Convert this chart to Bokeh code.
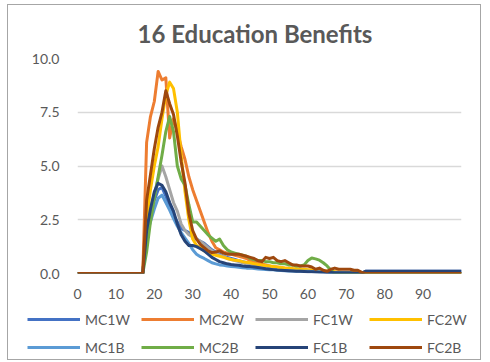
from bokeh.plotting import figure
from bokeh.models import Legend, LegendItem, FixedTicker, Range1d
from bokeh.embed import file_html
from bokeh.resources import INLINE

# ages 0..100
ages = list(range(0, 101))

# benefit values for ages 18..74; ages 0..17 are zero, ages 75..100 hold the tail value
mc1w_mid = [2.0, 2.8, 3.4, 3.9, 4.0, 3.6, 3.1, 2.7, 2.4, 2.1,
            2.0, 1.9, 1.8, 1.6, 1.5, 1.4, 1.25, 1.1, 1.0, 0.9,
            0.8, 0.75, 0.7, 0.65, 0.6, 0.55, 0.5, 0.45, 0.42, 0.4,
            0.38, 0.35, 0.32, 0.3, 0.28, 0.25, 0.22, 0.2, 0.2, 0.18,
            0.17, 0.15, 0.13, 0.12, 0.1, 0.09, 0.08, 0.07, 0.06, 0.05,
            0.05, 0.04, 0.04, 0.03, 0.03, 0.02, 0.02]
mc2w_mid = [6.1, 7.3, 8.0, 9.4, 9.0, 9.1, 6.3, 7.2, 6.6, 5.9,
            5.3, 4.5, 3.9, 3.4, 2.9, 2.4, 1.9, 1.5, 1.2, 1.1,
            1.0, 0.95, 0.9, 0.85, 0.8, 0.75, 0.7, 0.6, 0.55, 0.5,
            0.45, 0.4, 0.35, 0.3, 0.3, 0.28, 0.25, 0.25, 0.2, 0.2,
            0.2, 0.18, 0.15, 0.15, 0.12, 0.12, 0.1, 0.1, 0.08, 0.08,
            0.05, 0.05, 0.05, 0.05, 0.03, 0.02, 0.0]
fc1w_mid = [2.2, 3.0, 3.7, 4.4, 5.0, 4.5, 3.9, 3.3, 2.9, 2.3,
            2.0, 1.8, 1.7, 1.6, 1.5, 1.35, 1.2, 1.05, 0.95, 0.85,
            0.8, 0.7, 0.65, 0.6, 0.55, 0.5, 0.45, 0.4, 0.38, 0.35,
            0.32, 0.3, 0.28, 0.25, 0.22, 0.2, 0.2, 0.18, 0.15, 0.15,
            0.12, 0.12, 0.1, 0.1, 0.1, 0.08, 0.08, 0.06, 0.05, 0.05,
            0.04, 0.03, 0.02, 0.02, 0.0, 0.0, 0.0]
fc2w_mid = [2.5, 3.9, 5.0, 5.9, 7.2, 8.3, 8.9, 8.6, 7.5, 5.5,
            3.8, 2.5, 1.6, 1.3, 1.2, 1.05, 0.95, 0.9, 0.85, 0.8,
            0.75, 0.7, 0.65, 0.62, 0.6, 0.55, 0.52, 0.5, 0.45, 0.42,
            0.4, 0.37, 0.35, 0.33, 0.3, 0.28, 0.26, 0.25, 0.23, 0.22,
            0.2, 0.2, 0.18, 0.16, 0.15, 0.13, 0.12, 0.1, 0.1, 0.08,
            0.07, 0.05, 0.05, 0.05, 0.04, 0.03, 0.0]
mc1b_mid = [1.8, 2.4, 3.0, 3.5, 3.65, 3.3, 2.95, 2.55, 2.2, 1.9,
            1.65, 1.4, 1.1, 0.9, 0.78, 0.7, 0.6, 0.5, 0.45, 0.4,
            0.38, 0.35, 0.33, 0.31, 0.29, 0.27, 0.25, 0.25, 0.23, 0.21,
            0.2, 0.19, 0.18, 0.17, 0.15, 0.14, 0.13, 0.12, 0.12, 0.11,
            0.1, 0.1, 0.1, 0.09, 0.08, 0.08, 0.07, 0.06, 0.05, 0.05,
            0.04, 0.03, 0.02, 0.02, 0.0, 0.0, 0.0]
mc2b_mid = [1.0, 2.4, 3.5, 4.5, 5.5, 6.6, 7.3, 6.6, 5.0, 4.4,
            4.1, 3.2, 2.4, 2.4, 2.2, 2.0, 1.8, 1.65, 1.5, 1.6,
            1.3, 1.1, 1.0, 0.95, 0.9, 0.85, 0.8, 0.7, 0.65, 0.6,
            0.6, 0.55, 0.55, 0.5, 0.5, 0.45, 0.45, 0.4, 0.4, 0.35,
            0.35, 0.4, 0.6, 0.72, 0.68, 0.62, 0.5, 0.35, 0.15, 0.0,
            0.0, 0.0, 0.0, 0.0, 0.0, 0.0, 0.0]
fc1b_mid = [2.0, 3.0, 3.8, 4.2, 4.1, 3.8, 3.3, 2.9, 2.3, 1.8,
            1.5, 1.3, 1.3, 1.25, 1.15, 1.05, 0.9, 0.75, 0.65, 0.55,
            0.5, 0.45, 0.42, 0.4, 0.38, 0.35, 0.33, 0.32, 0.3, 0.28,
            0.25, 0.22, 0.2, 0.18, 0.16, 0.15, 0.14, 0.13, 0.12, 0.11,
            0.1, 0.09, 0.08, 0.08, 0.07, 0.06, 0.06, 0.05, 0.05, 0.04,
            0.04, 0.03, 0.03, 0.03, 0.02, 0.02, 0.02]
fc2b_mid = [3.4, 4.6, 5.8, 6.8, 7.5, 8.5, 7.9, 7.4, 6.4, 5.2,
            4.2, 2.8, 2.0, 1.6, 1.35, 1.2, 1.05, 0.97, 1.0, 1.05,
            0.95, 0.9, 0.9, 0.9, 0.9, 0.85, 0.8, 0.75, 0.7, 0.6,
            0.55, 0.75, 0.7, 0.75, 0.6, 0.55, 0.6, 0.5, 0.4, 0.4,
            0.35, 0.35, 0.35, 0.3, 0.2, 0.25, 0.15, 0.1, 0.2, 0.25,
            0.2, 0.2, 0.2, 0.2, 0.15, 0.15, 0.05]

tails = {"MC1W": 0.1, "MC2W": 0.0, "FC1W": 0.0, "FC2W": 0.0,
         "MC1B": 0.0, "MC2B": 0.0, "FC1B": 0.1, "FC2B": 0.0}

names = ["MC1W", "MC2W", "FC1W", "FC2W", "MC1B", "MC2B", "FC1B", "FC2B"]
mids = [mc1w_mid, mc2w_mid, fc1w_mid, fc2w_mid, mc1b_mid, mc2b_mid, fc1b_mid, fc2b_mid]
colors = ["#4472C4", "#ED7D31", "#A5A5A5", "#FFC000",
          "#5B9BD5", "#70AD47", "#264478", "#9E480E"]

y_ticks = [0.0, 2.5, 5.0, 7.5, 10.0]
x_ticks = [0, 10, 20, 30, 40, 50, 60, 70, 80, 90]

FONT = "Lato"
GREY_TEXT = "#595959"
EDGE = "1px solid #a6a6a6"
W = 474

# main chart
p = figure(width=W, height=300, output_backend="svg", toolbar_location=None,
           x_range=Range1d(0, 100), y_range=Range1d(0, 10),
           min_border_left=69, min_border_right=21, min_border_top=51,
           min_border_bottom=32)
p.styles = {"margin-left": "7px", "margin-top": "4px", "border-top": EDGE,
            "border-left": EDGE, "border-right": EDGE}
p.outline_line_color = None
p.background_fill_color = "white"
p.border_fill_color = "white"

p.title.text = "16 Education Benefits"
p.title.text_font = FONT
p.title.text_font_size = "24px"
p.title.text_font_style = "bold"
p.title.text_color = GREY_TEXT
p.title.align = "left"
p.title.offset = 60
p.title.standoff = 22

for ax in (p.xaxis[0], p.yaxis[0]):
    ax.axis_line_color = None
    ax.major_tick_line_color = None
    ax.minor_tick_line_color = None
    ax.major_label_text_font = FONT
    ax.major_label_text_font_size = "14px"
    ax.major_label_text_color = GREY_TEXT
    ax.major_label_standoff = 12
p.xaxis[0].major_label_standoff = 9

p.yaxis[0].ticker = FixedTicker(ticks=y_ticks)
p.yaxis[0].major_label_overrides = {t: f"{t:.1f}" for t in y_ticks}
p.xaxis[0].ticker = FixedTicker(ticks=x_ticks)
p.xgrid.grid_line_color = None
p.ygrid.grid_line_color = "#d9d9d9"
p.ygrid.grid_line_width = 1.3

for name, mid, color in zip(names, mids, colors):
    ys = [0.0] * 18 + mid + [tails[name]] * (101 - 18 - len(mid))
    p.line(ages, ys, line_color=color, line_width=3, line_join="round")

# legend strip under the chart
lg = figure(width=W, height=56, output_backend="svg", toolbar_location=None,
            x_axis_type=None, y_axis_type=None,
            x_range=Range1d(0, 1), y_range=Range1d(0, 1),
            min_border=0, min_border_left=0, min_border_right=0,
            min_border_top=0, min_border_bottom=0)
lg.styles = {"margin-left": "7px", "border-bottom": EDGE,
             "border-left": EDGE, "border-right": EDGE}
lg.grid.visible = False
lg.outline_line_color = None
lg.border_fill_color = "white"

renderers = {}
for name, color in zip(names, colors):
    # swatch lines sit outside the visible range; only their legend glyphs show
    renderers[name] = lg.line([5, 6], [5, 6], line_color=color, line_width=3)

# column-major fill: order items so that rows read MC1W MC2W FC1W FC2W / MC1B ...
order = ["MC1W", "MC1B", "MC2W", "MC2B", "FC1W", "FC1B", "FC2W", "FC2B"]
items = [LegendItem(label=n, renderers=[renderers[n]]) for n in order]

legend = Legend(items=items, ncols=4, location=(19, 3),
                glyph_width=53, glyph_height=20, spacing=8,
                label_standoff=5, label_width=48,
                label_text_font=FONT, label_text_font_size="14px",
                label_text_color=GREY_TEXT, padding=0, margin=0,
                border_line_color=None, background_fill_alpha=0)
lg.add_layout(legend, "center")

open("out.html", "w").write(file_html([p, lg], INLINE))
